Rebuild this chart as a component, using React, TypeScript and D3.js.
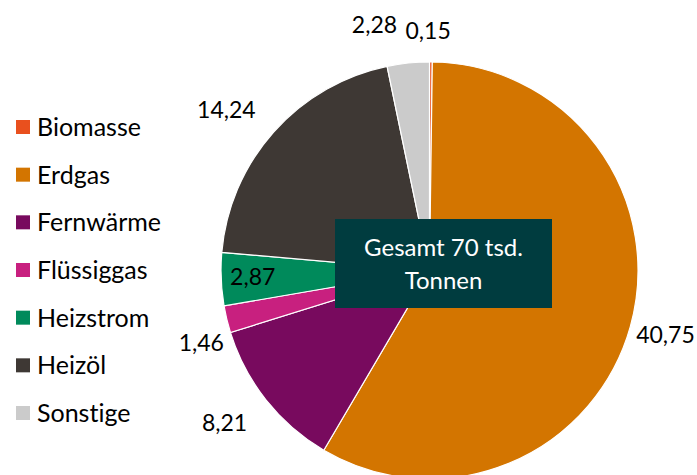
import React from 'react';
import * as d3 from 'd3';

const categories = ['Biomasse', 'Erdgas', 'Fernwärme', 'Flüssiggas', 'Heizstrom', 'Heizöl', 'Sonstige'];
const values = [0.15, 40.75, 8.21, 1.46, 2.87, 14.24, 2.28];
const colors = ['#E9501E', '#D37500', '#780A5E', '#C8207F', '#008A5B', '#3E3834', '#CBCBCB'];
// label nudges relative to the outer centroid (Excel "best fit" placement)
const labelNudges: [number, number][] = [[-3, 5], [0, -1], [-13, 0], [10, 15], [68, -4], [-20, 2], [-30, -2]];
const centerLines = ['Gesamt 70 tsd.', 'Tonnen'];

const W = 697;
const H = 475;
const FONT = 'Lato, "Open Sans", sans-serif';

export default function App() {
  const cx = 429.5;
  const cy = 270.5;
  const r = 208.5;
  const labelR = 245;

  const slices = d3.pie<number>().sort(null).value(d => d)(values);
  const arc = d3.arc<d3.PieArcDatum<number>>().innerRadius(0).outerRadius(r);
  const labelArc = d3.arc<d3.PieArcDatum<number>>().innerRadius(labelR).outerRadius(labelR);

  const fmt = (v: number) => v.toFixed(2).replace('.', ',');

  const legendY = d3.scalePoint<string>().domain(categories).range([127, 413]);

  return (
    <div style={{position: 'fixed', left: 0, top: 0}}>
      <svg width={W} height={H} style={{display: 'block', fontVariantLigatures: 'none'}}>
        <rect width={W} height={H} fill="#fff" />
        <g transform={`translate(${cx},${cy})`}>
          {slices.map((s, i) => (
            <path key={i} d={arc(s) || ''} fill={colors[i]} stroke="#fff" strokeWidth={1.2} />
          ))}
          {slices.map((s, i) => {
            const [x, y] = labelArc.centroid(s);
            return (
              <text key={i} x={x + labelNudges[i][0]} y={y + labelNudges[i][1] + 8}
                textAnchor="middle" fontFamily={FONT} fontSize={23} fill="#000">
                {fmt(values[i])}
              </text>
            );
          })}
        </g>
        <rect x={335} y={219} width={217} height={89} fill="#003C3F" />
        {centerLines.map((t, i) => (
          <text key={i} x={443.5} y={256 + i * 33} textAnchor="middle"
            fontFamily={FONT} fontSize={24} fill="#fff">{t}</text>
        ))}
        {categories.map((c, i) => (
          <g key={c} transform={`translate(0,${legendY(c)})`}>
            <rect x={16} y={-7} width={14} height={14} fill={colors[i]} />
            <text x={37} y={9} fontFamily={FONT} fontSize={25} fill="#000">{c}</text>
          </g>
        ))}
      </svg>
    </div>
  );
}
